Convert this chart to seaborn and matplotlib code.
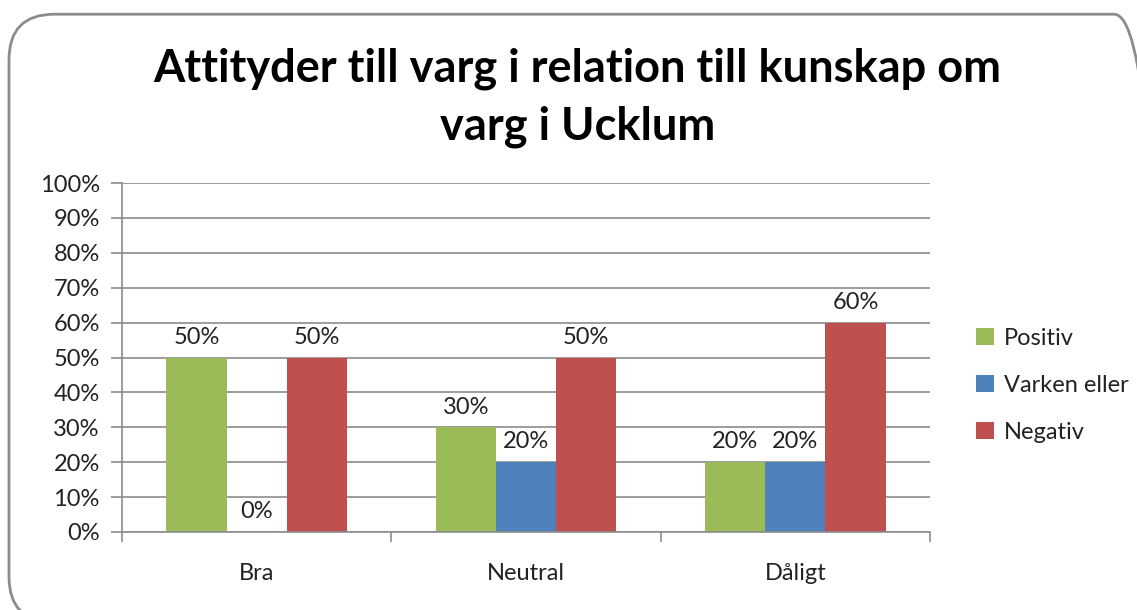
import matplotlib.pyplot as plt
import seaborn as sns
import pandas as pd
from matplotlib.patches import FancyBboxPatch
from matplotlib.ticker import PercentFormatter

# --- data ---
categories = ["Bra", "Neutral", "Dåligt"]
series = ["Positiv", "Varken eller", "Negativ"]
positiv = [50, 30, 20]
varken = [0, 20, 20]
negativ = [50, 50, 60]
colors = ["#9BBB59", "#4F81BD", "#C0504D"]

df = pd.DataFrame({
    "kategori": categories * 3,
    "serie": [s for s in series for _ in categories],
    "andel": positiv + varken + negativ,
})

sns.set_theme(style="white")
plt.rcParams["font.family"] = ["Lato", "DejaVu Sans"]

fig = plt.figure(figsize=(11.37, 6.10), dpi=100)
fig.patch.set_facecolor("white")

# rounded chart frame like Excel
frame = FancyBboxPatch((9 / 1137, -0.02), 1.02 - 9 / 1137, 0.998 - 13 / 610 + 0.02,
                       boxstyle="round,pad=0,rounding_size=0.04",
                       transform=fig.transFigure, fill=False,
                       edgecolor="#8c8c8c", linewidth=2, mutation_aspect=1137 / 610)
fig.patches.append(frame)

ax = fig.add_axes([122 / 1137, 1 - 532 / 610, (930 - 122) / 1137, (532 - 183) / 610])
sns.barplot(data=df, x="kategori", y="andel", hue="serie", palette=colors,
            width=0.67, saturation=1, linewidth=0, ax=ax, legend=True)

for cont in ax.containers:
    ax.bar_label(cont, labels=[f"{v:.0f}%" for v in cont.datavalues],
                 padding=7, fontsize=17, color="#222222")

ax.set_ylim(0, 100)
ax.set_xlim(-0.5, 2.5)
ax.set_yticks(range(0, 101, 10))
ax.yaxis.set_major_formatter(PercentFormatter(decimals=0))
ax.set_xlabel("")
ax.set_ylabel("")
ax.grid(axis="y", color="#8c8c8c", linewidth=1.2)
ax.set_axisbelow(True)
for side in ["top", "right"]:
    ax.spines[side].set_visible(False)
for side in ["left", "bottom"]:
    ax.spines[side].set_color("#8c8c8c")
    ax.spines[side].set_linewidth(1.2)

ax.tick_params(axis="y", length=8, width=1.2, color="#8c8c8c", labelsize=17,
               labelcolor="#222222", left=True, pad=8)
ax.tick_params(axis="x", length=0, labelsize=17, labelcolor="#222222", pad=22)
ax.set_xticks([-0.5, 0.5, 1.5, 2.5], minor=True)
ax.tick_params(axis="x", which="minor", length=7, width=1.2, color="#8c8c8c", bottom=True)

handles, labels = ax.get_legend_handles_labels()
ax.legend(handles, labels, loc="center left", bbox_to_anchor=(1.045, 0.42),
          frameon=False, fontsize=17, handlelength=0.75, handleheight=0.75,
          handletextpad=0.45, labelspacing=1.1, labelcolor="#222222",
          borderaxespad=0)

fig.text(0.508, 0.84, "Attityder till varg i relation till kunskap om\nvarg i Ucklum",
         ha="center", va="center", fontsize=32.5, fontweight="bold",
         linespacing=1.45, color="black")

fig.savefig("out.png", dpi=100, facecolor="white")
